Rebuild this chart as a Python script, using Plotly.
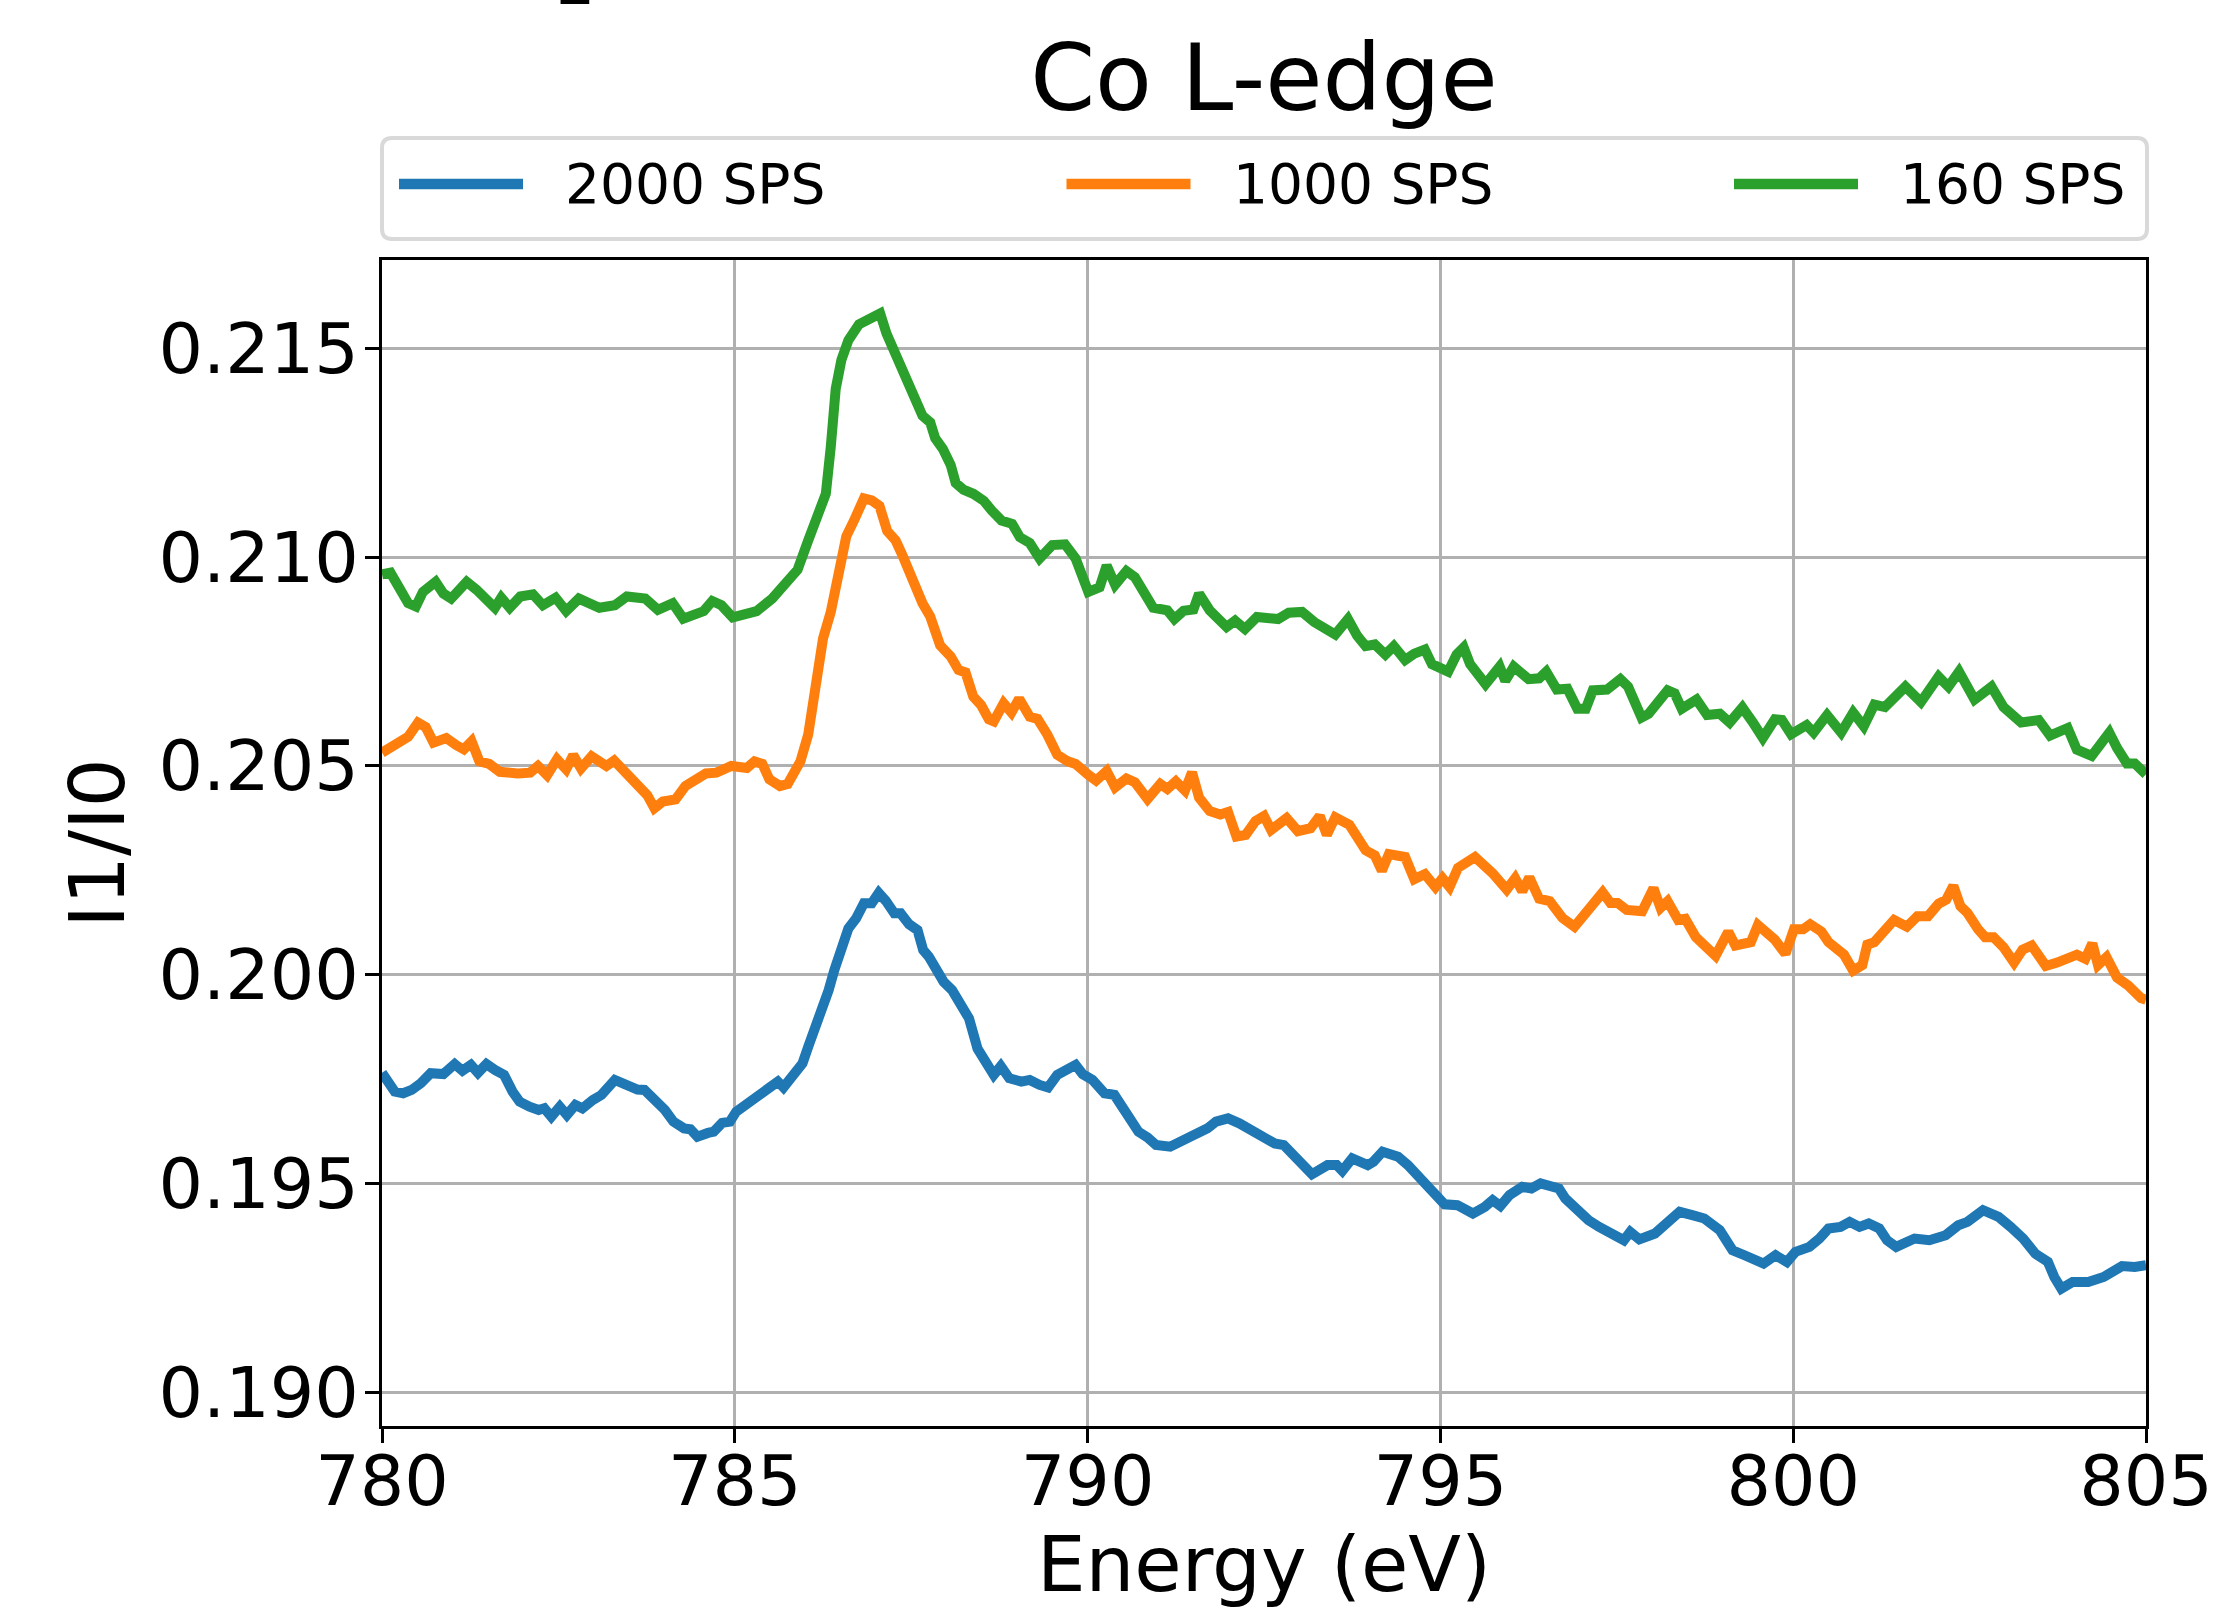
import plotly.graph_objects as go

# ---------------- data ----------------
energy_2000 = [
    780.00, 780.10, 780.18, 780.30, 780.42, 780.55, 780.69, 780.87, 781.03, 781.14,
    781.26, 781.36, 781.48, 781.60, 781.73, 781.85, 781.95, 782.09, 782.22, 782.30,
    782.40, 782.52, 782.62, 782.74, 782.84, 782.99, 783.11, 783.30, 783.44, 783.62,
    783.72, 783.87, 784.01, 784.13, 784.28, 784.37, 784.47, 784.62, 784.70, 784.82,
    784.93, 785.02, 785.19, 785.35, 785.51, 785.61, 785.69, 785.82, 785.96, 786.04,
    786.12, 786.25, 786.33, 786.41, 786.53, 786.61, 786.72, 786.83, 786.94, 787.04,
    787.14, 787.26, 787.35, 787.47, 787.59, 787.67, 787.75, 787.87, 787.96, 788.08,
    788.20, 788.32, 788.44, 788.57, 788.67, 788.77, 788.89, 789.06, 789.18, 789.32,
    789.44, 789.57, 789.71, 789.83, 789.93, 790.07, 790.24, 790.38, 790.55, 790.72,
    790.85, 790.97, 791.17, 791.36, 791.54, 791.70, 791.82, 791.99, 792.15,
    792.30, 792.47, 792.65, 792.78, 792.91, 793.04, 793.18, 793.40, 793.53, 793.61,
    793.75, 793.97, 794.05, 794.18, 794.40, 794.54, 794.67, 794.80, 794.93, 795.06,
    795.24, 795.46, 795.63, 795.74, 795.85, 795.98, 796.16, 796.29, 796.42, 796.55,
    796.68, 796.77, 796.95, 797.10, 797.25, 797.43, 797.60, 797.69, 797.82, 798.04,
    798.17, 798.39, 798.57, 798.74, 798.96, 799.14, 799.31, 799.58, 799.75, 799.91,
    800.03, 800.23, 800.37, 800.50, 800.67, 800.80, 800.94, 801.07, 801.22, 801.33,
    801.46, 801.72, 801.93, 802.16, 802.34, 802.47, 802.69, 802.91, 803.08, 803.26,
    803.43, 803.61, 803.70, 803.80, 803.96, 804.18, 804.40, 804.53, 804.66, 804.84,
    805.00,
]
ratio_2000 = [
    0.19765, 0.19740, 0.19720, 0.19716, 0.19724, 0.19740, 0.19764, 0.19762, 0.19786, 0.19770,
    0.19784, 0.19765, 0.19786, 0.19772, 0.19760, 0.19720, 0.19696, 0.19684, 0.19676, 0.19680,
    0.19660, 0.19684, 0.19664, 0.19688, 0.19680, 0.19700, 0.19712, 0.19748, 0.19736, 0.19725,
    0.19724, 0.19700, 0.19676, 0.19648, 0.19632, 0.19630, 0.19612, 0.19621, 0.19624, 0.19645,
    0.19648, 0.19672, 0.19692, 0.19712, 0.19732, 0.19744, 0.19730, 0.19762, 0.19788, 0.19827,
    0.19863, 0.19915, 0.19963, 0.20011, 0.20063, 0.20111, 0.20135, 0.20171, 0.20171, 0.20196,
    0.20177, 0.20147, 0.20147, 0.20121, 0.20107, 0.20059, 0.20043, 0.20011, 0.19983, 0.19963,
    0.19923, 0.19895, 0.19823, 0.19788, 0.19760, 0.19781, 0.19752, 0.19744, 0.19748, 0.19736,
    0.19730, 0.19760, 0.19770, 0.19784, 0.19762, 0.19748, 0.19716, 0.19712, 0.19668, 0.19624,
    0.19610, 0.19592, 0.19588, 0.19604, 0.19616, 0.19632, 0.19648, 0.19656, 0.19644,
    0.19628, 0.19612, 0.19596, 0.19592, 0.19568, 0.19540, 0.19522, 0.19544, 0.19544, 0.19530,
    0.19560, 0.19544, 0.19552, 0.19576, 0.19564, 0.19544, 0.19520, 0.19496, 0.19472, 0.19450,
    0.19448, 0.19428, 0.19444, 0.19460, 0.19446, 0.19472, 0.19492, 0.19488, 0.19500, 0.19496,
    0.19488, 0.19464, 0.19432, 0.19412, 0.19396, 0.19376, 0.19364, 0.19384, 0.19366, 0.19380,
    0.19400, 0.19432, 0.19424, 0.19416, 0.19388, 0.19340, 0.19328, 0.19308, 0.19328, 0.19312,
    0.19336, 0.19348, 0.19368, 0.19392, 0.19396, 0.19408, 0.19396, 0.19404, 0.19392, 0.19364,
    0.19348, 0.19368, 0.19364, 0.19376, 0.19400, 0.19408, 0.19436, 0.19420, 0.19396, 0.19368,
    0.19332, 0.19312, 0.19276, 0.19248, 0.19264, 0.19264, 0.19276, 0.19288, 0.19302, 0.19300,
    0.19304,
]

energy_1000 = [
    780.00, 780.19, 780.37, 780.51, 780.62, 780.73, 780.91, 781.05, 781.16, 781.27,
    781.38, 781.52, 781.67, 781.92, 782.10, 782.21, 782.34, 782.48, 782.61, 782.71,
    782.82, 782.97, 783.18, 783.29, 783.58, 783.76, 783.86, 783.98, 784.16, 784.30,
    784.59, 784.74, 784.95, 785.17, 785.28, 785.39, 785.49, 785.64, 785.75, 785.93,
    786.04, 786.15, 786.25, 786.36, 786.47, 786.58, 786.69, 786.76, 786.83, 786.94,
    787.05, 787.16, 787.28, 787.37, 787.52, 787.66, 787.77, 787.91, 788.06, 788.17,
    788.27, 788.38, 788.49, 788.60, 788.67, 788.81, 788.92, 789.03, 789.18, 789.29,
    789.43, 789.57, 789.72, 789.83, 790.01, 790.12,
    790.27, 790.39, 790.55, 790.67, 790.85, 791.03, 791.13, 791.25, 791.38, 791.48,
    791.58, 791.73, 791.88, 791.99, 792.11, 792.24, 792.38, 792.50, 792.60, 792.82,
    792.98, 793.16, 793.29, 793.39, 793.51, 793.71, 793.94, 794.07, 794.17, 794.27,
    794.50, 794.63, 794.78, 794.93, 795.03, 795.13, 795.25, 795.49, 795.74, 795.94,
    796.06, 796.16, 796.26, 796.40, 796.55, 796.73, 796.90, 797.07, 797.30, 797.41,
    797.51, 797.64, 797.86, 798.02, 798.12, 798.22, 798.37, 798.47, 798.62, 798.90,
    799.08, 799.18, 799.40, 799.50, 799.74, 799.89, 800.01, 800.14, 800.24, 800.40,
    800.50, 800.72, 800.85, 800.98, 801.05, 801.15, 801.31, 801.43, 801.61, 801.76,
    801.91, 802.06, 802.17, 802.27, 802.37, 802.47, 802.62, 802.72, 802.84, 802.98,
    803.13, 803.25, 803.38, 803.58, 803.74, 803.86, 804.02, 804.14, 804.24, 804.32,
    804.44, 804.59, 804.75, 804.93, 805.00,
]
ratio_1000 = [
    0.20532, 0.20553, 0.20570, 0.20604, 0.20593, 0.20556, 0.20567, 0.20550, 0.20540, 0.20559,
    0.20511, 0.20505, 0.20486, 0.20482, 0.20484, 0.20500, 0.20478, 0.20516, 0.20492, 0.20526,
    0.20494, 0.20523, 0.20500, 0.20513, 0.20463, 0.20430, 0.20399, 0.20415, 0.20420, 0.20452,
    0.20482, 0.20484, 0.20500, 0.20495, 0.20511, 0.20505, 0.20468, 0.20452, 0.20457, 0.20511,
    0.20575, 0.20708, 0.20805, 0.20869, 0.20975, 0.21050, 0.21088, 0.21109, 0.21141, 0.21136,
    0.21123, 0.21063, 0.21040, 0.21007, 0.20938, 0.20890, 0.20858, 0.20789, 0.20762, 0.20730,
    0.20724, 0.20666, 0.20646, 0.20612, 0.20607, 0.20650, 0.20628, 0.20661, 0.20618, 0.20613,
    0.20575, 0.20527, 0.20511, 0.20505, 0.20479, 0.20465,
    0.20488, 0.20449, 0.20470, 0.20461, 0.20421, 0.20457, 0.20445, 0.20463, 0.20441, 0.20485,
    0.20424, 0.20392, 0.20384, 0.20390, 0.20331, 0.20335, 0.20368, 0.20380, 0.20347, 0.20375,
    0.20344, 0.20351, 0.20380, 0.20335, 0.20377, 0.20359, 0.20298, 0.20286, 0.20249, 0.20289,
    0.20282, 0.20229, 0.20241, 0.20210, 0.20231, 0.20210, 0.20256, 0.20282, 0.20243, 0.20204,
    0.20231, 0.20200, 0.20233, 0.20182, 0.20176, 0.20136, 0.20115, 0.20152, 0.20197, 0.20172,
    0.20172, 0.20155, 0.20152, 0.20207, 0.20160, 0.20176, 0.20131, 0.20134, 0.20090, 0.20045,
    0.20103, 0.20070, 0.20078, 0.20119, 0.20084, 0.20050, 0.20109, 0.20109, 0.20121, 0.20103,
    0.20078, 0.20048, 0.20010, 0.20023, 0.20072, 0.20078, 0.20109, 0.20131, 0.20115, 0.20140,
    0.20140, 0.20170, 0.20180, 0.20213, 0.20164, 0.20148, 0.20109, 0.20090, 0.20090, 0.20066,
    0.20029, 0.20060, 0.20070, 0.20021, 0.20029, 0.20038, 0.20048, 0.20038, 0.20075, 0.20023,
    0.20042, 0.19993, 0.19974, 0.19944, 0.19940,
]

energy_160 = [
    780.00, 780.12, 780.26, 780.37, 780.48, 780.58, 780.76, 780.87, 780.98, 781.20,
    781.34, 781.60, 781.69, 781.81, 781.96, 782.14, 782.28, 782.46, 782.61, 782.79,
    783.08, 783.30, 783.47, 783.73, 783.91, 784.12, 784.27, 784.45, 784.56, 784.68,
    784.81, 784.97, 785.17, 785.31, 785.53, 785.68, 785.89, 786.04, 786.18, 786.29,
    786.36, 786.43, 786.51, 786.61, 786.76, 786.87, 786.97, 787.06, 787.15, 787.23,
    787.37, 787.48, 787.55, 787.66, 787.77, 787.84, 787.95, 788.06, 788.13, 788.24,
    788.38, 788.53, 788.64, 788.78, 788.93, 789.04, 789.18, 789.32, 789.50, 789.68,
    789.83, 789.94, 790.01,
    790.17, 790.27, 790.39, 790.55, 790.67, 790.93, 791.13, 791.23, 791.36, 791.50,
    791.58, 791.73, 791.97, 792.09, 792.23, 792.40, 792.70, 792.85, 793.04, 793.21,
    793.51, 793.69, 793.82, 793.94, 794.07, 794.22, 794.34, 794.50, 794.63, 794.78,
    794.88, 795.11, 795.23, 795.33, 795.42, 795.64, 795.84, 795.92, 796.04, 796.25,
    796.40, 796.50, 796.65, 796.80, 796.94, 797.06, 797.16, 797.36, 797.55, 797.66,
    797.85, 797.95, 798.22, 798.32, 798.42, 798.63, 798.78, 798.96, 799.10, 799.28,
    799.43, 799.57, 799.74, 799.84, 799.97, 800.19, 800.29, 800.48, 800.68, 800.85,
    801.00, 801.15, 801.30, 801.59, 801.81, 802.06, 802.20, 802.35, 802.57, 802.81,
    802.98, 803.23, 803.48, 803.64, 803.89, 804.02, 804.23, 804.48, 804.59, 804.73,
    804.84, 805.00,
]
ratio_160 = [
    0.20959, 0.20963, 0.20922, 0.20890, 0.20882, 0.20917, 0.20941, 0.20913, 0.20901, 0.20941,
    0.20922, 0.20879, 0.20903, 0.20879, 0.20906, 0.20911, 0.20885, 0.20903, 0.20871, 0.20901,
    0.20879, 0.20885, 0.20906, 0.20901, 0.20874, 0.20890, 0.20853, 0.20863, 0.20871, 0.20895,
    0.20885, 0.20856, 0.20863, 0.20871, 0.20901, 0.20933, 0.20970, 0.21040, 0.21104, 0.21152,
    0.21264, 0.21403, 0.21472, 0.21520, 0.21558, 0.21568, 0.21574, 0.21584, 0.21536, 0.21504,
    0.21462, 0.21419, 0.21376, 0.21339, 0.21323, 0.21285, 0.21259, 0.21221, 0.21178, 0.21162,
    0.21152, 0.21135, 0.21112, 0.21088, 0.21080, 0.21048, 0.21034, 0.20997, 0.21029, 0.21031,
    0.20997, 0.20954, 0.20917,
    0.20928, 0.20980, 0.20934, 0.20967, 0.20952, 0.20879, 0.20873, 0.20852, 0.20872, 0.20875,
    0.20913, 0.20873, 0.20833, 0.20848, 0.20828, 0.20857, 0.20852, 0.20867, 0.20869, 0.20845,
    0.20815, 0.20852, 0.20812, 0.20787, 0.20791, 0.20767, 0.20787, 0.20754, 0.20769, 0.20779,
    0.20744, 0.20726, 0.20767, 0.20784, 0.20744, 0.20696, 0.20738, 0.20704, 0.20738, 0.20708,
    0.20710, 0.20726, 0.20683, 0.20685, 0.20637, 0.20637, 0.20681, 0.20683, 0.20708, 0.20690,
    0.20616, 0.20625, 0.20681, 0.20674, 0.20637, 0.20659, 0.20622, 0.20625, 0.20604, 0.20640,
    0.20604, 0.20567, 0.20612, 0.20610, 0.20576, 0.20598, 0.20580, 0.20622, 0.20580, 0.20628,
    0.20595, 0.20647, 0.20641, 0.20690, 0.20653, 0.20714, 0.20690, 0.20726, 0.20659, 0.20690,
    0.20641, 0.20604, 0.20610, 0.20573, 0.20591, 0.20539, 0.20524, 0.20580, 0.20543, 0.20506,
    0.20506, 0.20480,
]

series_names = ["2000 SPS", "1000 SPS", "160 SPS"]
series_colors = ["#1f77b4", "#ff7f0e", "#2ca02c"]
x_ticks = [780, 785, 790, 795, 800, 805]
y_ticks = [0.190, 0.195, 0.200, 0.205, 0.210, 0.215]
y_ticklabels = ["0.190", "0.195", "0.200", "0.205", "0.210", "0.215"]

# ---------------- figure ----------------
FONT = "DejaVu Sans"
W, H = 2220, 1609
ML, MR, MT, MB = 382, 74, 260, 183
PW, PH = W - ML - MR, H - MT - MB


def px_x(X):
    """page pixel x -> paper fraction"""
    return (X - ML) / PW


def px_y(Y):
    """page pixel y (from top) -> paper fraction"""
    return 1 - (Y - MT) / PH


fig = go.Figure()
for name, color, xs, ys in zip(series_names, series_colors,
                               [energy_2000, energy_1000, energy_160],
                               [ratio_2000, ratio_1000, ratio_160]):
    fig.add_trace(go.Scatter(x=xs, y=ys, mode="lines", name=name, showlegend=False,
                             line=dict(color=color, width=10)))

axis_common = dict(
    showgrid=True, gridcolor="#b0b0b0", gridwidth=3.3,
    showline=True, linecolor="black", linewidth=3.4, mirror=True,
    ticks="outside", ticklen=14, tickwidth=3.3, tickcolor="black",
    tickfont=dict(family=FONT, size=70, color="black"),
    zeroline=False, automargin=False,
)

fig.update_layout(
    width=W, height=H,
    margin=dict(l=ML, r=MR, t=MT, b=MB, pad=0, autoexpand=False),
    paper_bgcolor="white", plot_bgcolor="white",
    font=dict(family=FONT, color="black"),
    title=dict(text="Co L-edge", font=dict(family=FONT, size=93, color="black"),
               x=(ML + PW / 2) / W, xanchor="center",
               y=1 - 77.5 / H, yanchor="middle", yref="container"),
    xaxis=dict(range=[780, 805], tickvals=x_ticks, ticklabelstandoff=-22,
               title=dict(text="Energy (eV)", font=dict(family=FONT, size=77, color="black"),
                          standoff=37),
               **axis_common),
    yaxis=dict(range=[0.18919, 0.21712], tickvals=y_ticks, ticktext=y_ticklabels,
               ticklabelstandoff=-8,
               title=dict(text="I1/I0", font=dict(family=FONT, size=77, color="black"),
                          standoff=9),
               **axis_common),
    showlegend=False,
)

# ---------------- legend (matplotlib-style expanded frame, 3 columns) ----------------
LEG_L, LEG_R, LEG_T, LEG_B, RAD = 382, 2147, 138, 239, 10
x0, x1, y0, y1 = px_x(LEG_L), px_x(LEG_R), px_y(LEG_B), px_y(LEG_T)
rx, ry = RAD / PW, RAD / PH
frame_path = (
    f"M{x0 + rx},{y1} L{x1 - rx},{y1} Q{x1},{y1} {x1},{y1 - ry} "
    f"L{x1},{y0 + ry} Q{x1},{y0} {x1 - rx},{y0} "
    f"L{x0 + rx},{y0} Q{x0},{y0} {x0},{y0 + ry} "
    f"L{x0},{y1 - ry} Q{x0},{y1} {x0 + rx},{y1} Z"
)
fig.add_shape(type="path", path=frame_path, xref="paper", yref="paper",
              line=dict(color="#d9d9d9", width=4), fillcolor="white", layer="above")

LEG_Y = 184
for i, (name, color) in enumerate(zip(series_names, series_colors)):
    start = 399 + i * 667.5
    fig.add_shape(type="line", xref="paper", yref="paper",
                  x0=px_x(start), x1=px_x(start + 124), y0=px_y(LEG_Y), y1=px_y(LEG_Y),
                  line=dict(color=color, width=10.5), layer="above")
    fig.add_annotation(text=name, xref="paper", yref="paper",
                       x=px_x(start + 164), y=px_y(LEG_Y),
                       xanchor="left", yanchor="middle", showarrow=False,
                       font=dict(family=FONT, size=55, color="black"))

# partially cropped text at the very top edge (bottom of a subscript glyph)
fig.add_annotation(text="2", xref="paper", yref="paper",
                   x=px_x(575), y=px_y(20.6),
                   xanchor="center", yanchor="bottom", showarrow=False,
                   font=dict(family=FONT, size=62, color="black"))

fig.write_html("out.html",
               config={"displayModeBar": False},
               post_script="document.body.style.margin='0';"
                           "document.body.style.overflow='hidden';")
